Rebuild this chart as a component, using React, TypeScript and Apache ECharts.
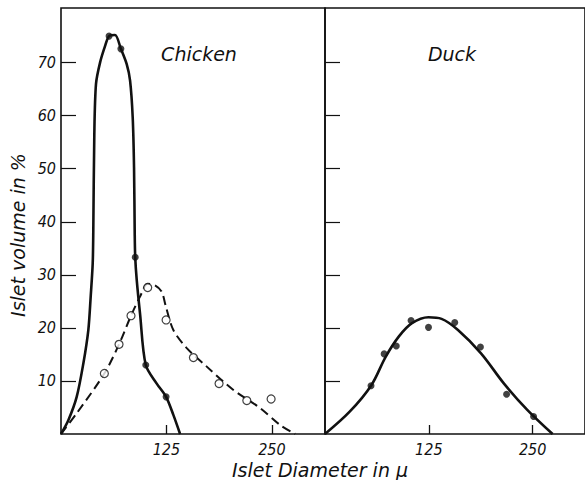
import React, { useEffect, useRef } from "react";
import * as echarts from "echarts";

// Chicken: filled dots and solid fitted curve
const chickenDots: [number, number][] = [
  [57, 75], [71, 72.6], [88, 33.3], [100.5, 13], [124.6, 7.0],
];
const chickenCurve: [number, number][] = [
  [0, 0], [8.7, 2.6], [18.6, 7], [26.5, 13.3], [32.4, 19.6], [35.2, 25.9],
  [37.6, 32.2], [38.3, 38.5], [39.5, 56.5], [41.5, 66], [46.3, 70], [52.2, 73.1],
  [57, 75], [64, 75.2], [71, 72.6], [77.9, 69.7], [81.9, 66.6], [85, 59.7],
  [86.6, 50.2], [87.4, 37.8], [88, 33.3], [89.8, 29], [93.7, 22.7], [100.5, 13],
  [113.5, 9.5], [124.6, 7.0], [133.2, 3.6], [141.2, 0],
];
// Chicken: open circles and dashed fitted curve
const chickenOpen: [number, number][] = [
  [51.4, 11.4], [68.8, 16.9], [83, 22.3], [102.8, 27.6], [124.6, 21.5],
  [157, 14.4], [187.4, 9.5], [220.3, 6.3], [249.1, 6.6],
];
const chickenDashed: [number, number][] = [
  [0, 0], [18.6, 3.9], [51.4, 11.4], [68.8, 16.9], [83, 22.3], [93.7, 25.9],
  [102.8, 28.3], [111.5, 28], [119.4, 26.8], [124.2, 24.1], [133.2, 19.6],
  [149.1, 16.2], [172.8, 12.7], [204.4, 8.3], [236, 4.9], [259.8, 1.7], [277.6, 0],
];
// Duck: filled dots and solid fitted curve
const duckDots: [number, number][] = [
  [55.4, 9.1], [71.2, 15.1], [85.8, 16.6], [103.6, 21.4], [124.6, 20.1],
  [156.2, 21], [187.1, 16.4], [218.6, 7.5], [251.1, 3.3],
];
const duckCurve: [number, number][] = [
  [0, 0], [29.7, 4.2], [55.4, 9.1], [73.2, 14.6], [89, 18.4], [104.7, 20.9],
  [124.6, 22], [140.3, 21.7], [160.1, 19.6], [187.8, 15.2], [215.5, 9.5],
  [243.2, 4.6], [274, 0],
];

const xTicks = [125, 250];
const yTicks = [10, 20, 30, 40, 50, 60, 70];
const panelTitles = ["Chicken", "Duck"];
const xTitle = "Islet Diameter in μ";
const yTitle = "Islet volume in %";

const INK = "#111";
const labelFont = {
  fontFamily: "'Liberation Sans Narrow', 'DejaVu Sans Condensed', sans-serif",
  fontStyle: "italic" as const,
  fontSize: 16,
  lineHeight: 14,
  color: INK,
};
const titleFont = "italic 19px 'DejaVu Sans', sans-serif";

export default function App() {
  const ref = useRef<HTMLDivElement>(null);
  useEffect(() => {
    if (!ref.current) return;
    const chart = echarts.init(ref.current, null, { renderer: "svg" });
    const xAxisBase = (gi: number) => ({
      type: "value",
      gridIndex: gi,
      min: 0,
      max: 313,
      axisLine: { show: false },
      splitLine: { show: false },
      axisTick: {
        show: true,
        inside: true,
        length: 9,
        customValues: xTicks,
        lineStyle: { color: INK, width: 1.3 },
      },
      axisLabel: { show: true, customValues: xTicks, margin: 8, ...labelFont },
    });
    const yAxisBase = (gi: number, showLabels: boolean) => ({
      type: "value",
      gridIndex: gi,
      min: 0,
      max: 80.3,
      axisLine: { show: false },
      splitLine: { show: false },
      axisTick: {
        show: true,
        inside: true,
        length: 15,
        customValues: yTicks,
        lineStyle: { color: INK, width: 1.2 },
      },
      axisLabel: {
        show: showLabels,
        customValues: yTicks,
        margin: 5,
        ...labelFont,
      },
    });
    chart.setOption({
      animation: false,
      grid: [
        { left: 61, top: 8, width: 264, height: 426, show: true, borderColor: INK, borderWidth: 1.6, backgroundColor: "transparent" },
        { left: 325, top: 8, width: 264, height: 426, show: true, borderColor: INK, borderWidth: 1.6, backgroundColor: "transparent" },
      ],
      xAxis: [xAxisBase(0), xAxisBase(1)],
      yAxis: [yAxisBase(0, true), yAxisBase(1, false)],
      series: [
        {
          type: "line", xAxisIndex: 0, yAxisIndex: 0, data: chickenCurve,
          smooth: 0.3, showSymbol: false, symbol: "none",
          lineStyle: { color: INK, width: 2.6 },
        },
        {
          type: "line", xAxisIndex: 0, yAxisIndex: 0, data: chickenDashed,
          smooth: 0.3, showSymbol: false, symbol: "none",
          lineStyle: { color: INK, width: 2, type: [9, 5] },
        },
        {
          type: "scatter", xAxisIndex: 0, yAxisIndex: 0, data: chickenDots,
          symbolSize: 7, itemStyle: { color: INK }, z: 5,
        },
        {
          type: "scatter", xAxisIndex: 0, yAxisIndex: 0, data: chickenOpen,
          symbolSize: 8, itemStyle: { color: "#fff", borderColor: INK, borderWidth: 1.2 }, z: 5,
        },
        {
          type: "line", xAxisIndex: 1, yAxisIndex: 1, data: duckCurve,
          smooth: 0.35, showSymbol: false, symbol: "none",
          lineStyle: { color: INK, width: 2.6 },
        },
        {
          type: "scatter", xAxisIndex: 1, yAxisIndex: 1, data: duckDots,
          symbolSize: 7, itemStyle: { color: INK }, z: 5,
        },
      ],
      graphic: [
        { type: "text", x: 199, y: 54, style: { text: panelTitles[0], font: titleFont, fill: INK, align: "center", verticalAlign: "middle" } },
        { type: "text", x: 452, y: 54, style: { text: panelTitles[1], font: titleFont, fill: INK, align: "center", verticalAlign: "middle" } },
        { type: "text", x: 320, y: 470, style: { text: xTitle, font: titleFont, lineHeight: 16, fill: INK, align: "center", verticalAlign: "middle" } },
        { type: "text", x: 18, y: 235, rotation: Math.PI / 2, style: { text: yTitle, font: titleFont, fill: INK, align: "center", verticalAlign: "middle" } },
      ],
    });
    return () => chart.dispose();
  }, []);
  return (
    <div
      ref={ref}
      style={{ position: "absolute", left: 0, top: 0, width: 585, height: 480, background: "#fff" }}
    />
  );
}
